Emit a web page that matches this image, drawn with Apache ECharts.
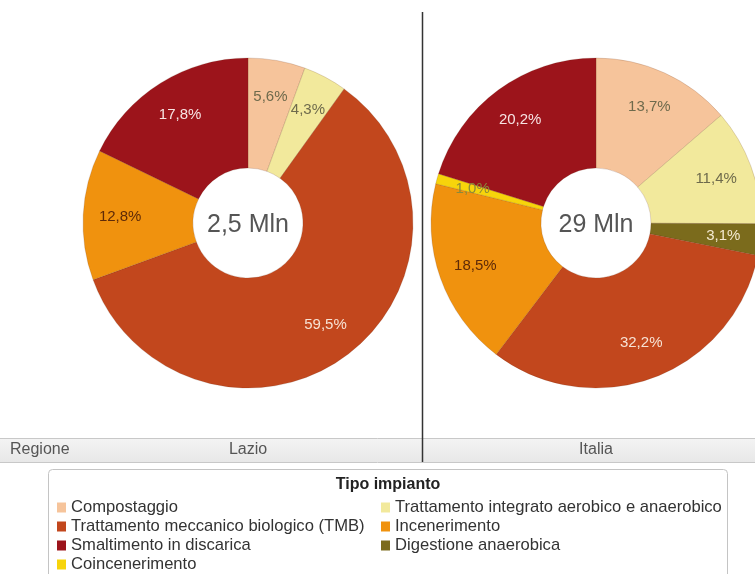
<!DOCTYPE html>
<html>
<head>
<meta charset="utf-8">
<script src="https://cdn.jsdelivr.net/npm/echarts@6/dist/echarts.min.js"></script>
<style>html,body{margin:0;padding:0;background:#fff}#c{width:755px;height:574px}</style>
</head>
<body>
<div id="c"></div>
<script>
// Categories (order of slices, clockwise from top)
const categories = ['Compostaggio','Trattamento integrato aerobico e anaerobico','Digestione anaerobica','Trattamento meccanico biologico (TMB)','Incenerimento','Coincenerimento','Smaltimento in discarica'];
const catColors = ['#F6C49B','#F2E99C','#7B6B1C','#C2471D','#F0920E','#F7D40B','#9C141B'];
const labelColors = ['#6e6a4c','#6e6a4c','#f4ead0','#f7e2d4','#5e2a08','#8a8a3a','#f7e4e4'];
// Percent values (null = absent)
const lazioValues  = [5.6, 4.3, null, 59.5, 12.8, null, 17.8];
const italiaValues = [13.7, 11.4, 3.1, 32.2, 18.5, 1.0, 20.2];
const regions = ['Lazio','Italia'];
const totals = ['2,5 Mln','29 Mln'];
const legendCol1 = ['Compostaggio','Trattamento meccanico biologico (TMB)','Smaltimento in discarica','Coincenerimento'];
const legendCol2 = ['Trattamento integrato aerobico e anaerobico','Incenerimento','Digestione anaerobica'];

const centers = [[248,223],[596,223]];
const valuesList = [lazioValues, italiaValues];
const fontFam = '"Liberation Sans", Arial, sans-serif';

function buildData(vals, forLabel){
  const out=[];
  vals.forEach((v,i)=>{
    if(v==null) return;
    const d={name:categories[i], value:v};
    if(forLabel){
      d.itemStyle={color:'rgba(0,0,0,0)'};
      d.label={color:labelColors[i]};
    } else {
      d.itemStyle={color:catColors[i]};
    }
    out.push(d);
  });
  return out;
}

const series=[];
valuesList.forEach((vals,k)=>{
  series.push({
    type:'pie', name:regions[k], center:centers[k], radius:[55,165],
    startAngle:90, clockwise:true, avoidLabelOverlap:false, silent:true,
    label:{show:false}, labelLine:{show:false},
    itemStyle:{borderColor:'rgba(90,40,20,0.35)', borderWidth:0.5},
    emphasis:{disabled:true},
    data:buildData(vals,false)
  });
});
valuesList.forEach((vals,k)=>{
  series.push({
    type:'pie', name:regions[k]+'-labels', center:centers[k], radius:[0,250],
    startAngle:90, clockwise:true, avoidLabelOverlap:false, silent:true,
    z:5,
    label:{show:true, position:'inside', fontSize:15, fontFamily:fontFam,
      formatter:p=>p.value.toFixed(1).replace('.',',')+'%'},
    labelLine:{show:false}, emphasis:{disabled:true},
    data:buildData(vals,true)
  });
});

function legendData(list){
  return list.map(n=>({name:n, itemStyle:{color:catColors[categories.indexOf(n)], borderWidth:0}}));
}
const legendCommon = {orient:'vertical', top:494, height:120, itemWidth:9, itemHeight:10, itemGap:2, icon:'rect',
  selectedMode:false, itemStyle:{borderWidth:0}, textStyle:{fontSize:16.6, color:'#333', fontFamily:fontFam}};

const chart=echarts.init(document.getElementById('c'));
chart.setOption({
  animation:false,
  backgroundColor:'#fff',
  legend:[
    Object.assign({left:52, data:legendData(legendCol1)}, legendCommon),
    Object.assign({left:376, data:legendData(legendCol2)}, legendCommon)
  ],
  graphic:[
    {type:'rect', z:-1, shape:{x:0,y:438,width:755,height:24},
     style:{fill:new echarts.graphic.LinearGradient(0,0,0,1,[{offset:0,color:'#f4f4f4'},{offset:1,color:'#e8e8e8'}]), stroke:null}},
    {type:'line', shape:{x1:0,y1:438.5,x2:755,y2:438.5}, style:{stroke:'#c8c8c8', lineWidth:1}},
    {type:'line', shape:{x1:0,y1:462.5,x2:755,y2:462.5}, style:{stroke:'#c8c8c8', lineWidth:1}},
    {type:'line', shape:{x1:422.5,y1:12,x2:422.5,y2:462}, style:{stroke:'#333', lineWidth:1.5}},
    {type:'text', x:10, y:450, style:{text:'Regione', fill:'#555', font:'16px '+fontFam, textVerticalAlign:'middle'}},
    {type:'text', x:centers[0][0], y:450, style:{text:regions[0], fill:'#555', font:'16px '+fontFam, textAlign:'center', textVerticalAlign:'middle'}},
    {type:'text', x:centers[1][0], y:450, style:{text:regions[1], fill:'#555', font:'16px '+fontFam, textAlign:'center', textVerticalAlign:'middle'}},
    {type:'rect', z:-1, shape:{x:48.5,y:469.5,width:679,height:130,r:4}, style:{fill:'#fff', stroke:'#c4c4c4', lineWidth:1}},
    {type:'text', x:388, y:485, style:{text:'Tipo impianto', fill:'#222', font:'bold 16px '+fontFam, textAlign:'center', textVerticalAlign:'middle'}},
    {type:'text', z:10, x:centers[0][0], y:centers[0][1]+2, style:{text:totals[0], fill:'#555', font:'25px '+fontFam, textAlign:'center', textVerticalAlign:'middle'}},
    {type:'text', z:10, x:centers[1][0], y:centers[1][1]+2, style:{text:totals[1], fill:'#555', font:'25px '+fontFam, textAlign:'center', textVerticalAlign:'middle'}}
  ],
  series:series
});
</script>
</body>
</html>
